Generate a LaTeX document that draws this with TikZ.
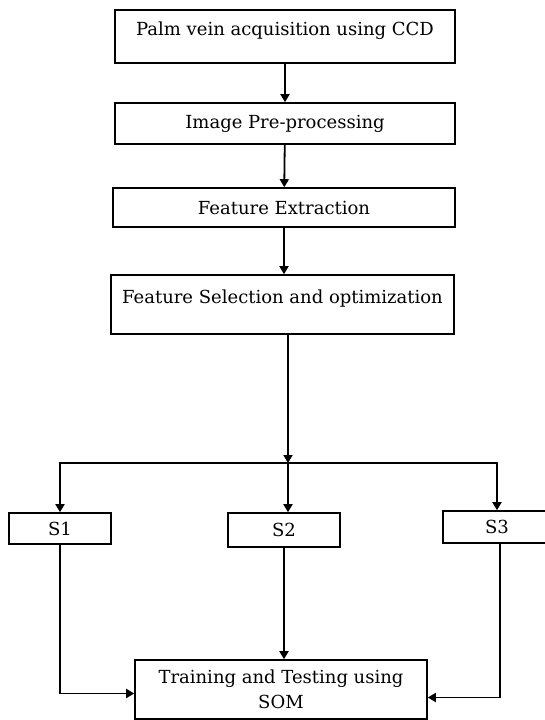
\documentclass[tikz,border=0pt]{standalone}
\usepackage{fontspec}
\setmainfont{DejaVu Serif}
\usepackage{tikz}
\usetikzlibrary{arrows.meta, positioning}

\begin{document}
\begin{tikzpicture}[
    x=0.5pt, y=-0.5pt,
    font=\fontsize{9}{12.5}\selectfont,
    box/.style={rectangle, draw, line width=0.8pt, inner sep=0pt, align=center},
    topbox/.style={box, text height=6.8pt, text depth=8pt},
    arrow/.style={-{Triangle[length=4pt,width=4.5pt]}, line width=0.9pt}
]
\clip (0,0) rectangle (545,720);

\node[topbox, minimum width=170pt, minimum height=26.5pt] (acq) at (285,36.5) {Palm vein acquisition using CCD};
\node[box, minimum width=170pt, minimum height=20.5pt] (prep) at (285,123.5) {Image Pre-processing};
\node[box, minimum width=171pt, minimum height=19.5pt] (feat) at (284,207.5) {Feature Extraction};
\node[topbox, minimum width=171.5pt, minimum height=29.5pt] (sel) at (282.5,304.5) {Feature Selection and optimization};

\coordinate (split) at (288,463);

\node[box, minimum width=51pt, minimum height=15.5pt] (s1) at (60,528.5) {S1};
\node[box, minimum width=56pt, minimum height=17pt] (s2) at (284,530) {S2};
\node[box, minimum width=54pt, minimum height=16pt] (s3) at (497,527) {S3};
\node[box, minimum width=146pt, minimum height=29.5pt] (som) at (281,689.5) {Training and Testing using\\SOM};

\draw[arrow] (acq) -- (prep);
\draw[arrow] (prep) -- (feat);
\draw[arrow] (feat.south) -- (feat.south |- sel.north);
\draw[arrow] (split |- sel.south) -- (split);
\draw[line width=0.9pt] (s1.north |- split) -- (s3.north |- split);
\draw[arrow] (split) -| (s1.north);
\draw[arrow] (split) -- (split |- s2.north);
\draw[arrow] (split) -| (s3.north);
\draw[arrow] (s1.south) |- ([yshift=-2pt]som.west);
\draw[arrow] (s2.south) -- (s2.south |- som.north);
\draw[arrow] ([xshift=1.5pt]s3.south) |- ([yshift=-4pt]som.east);

\end{tikzpicture}
\end{document}
